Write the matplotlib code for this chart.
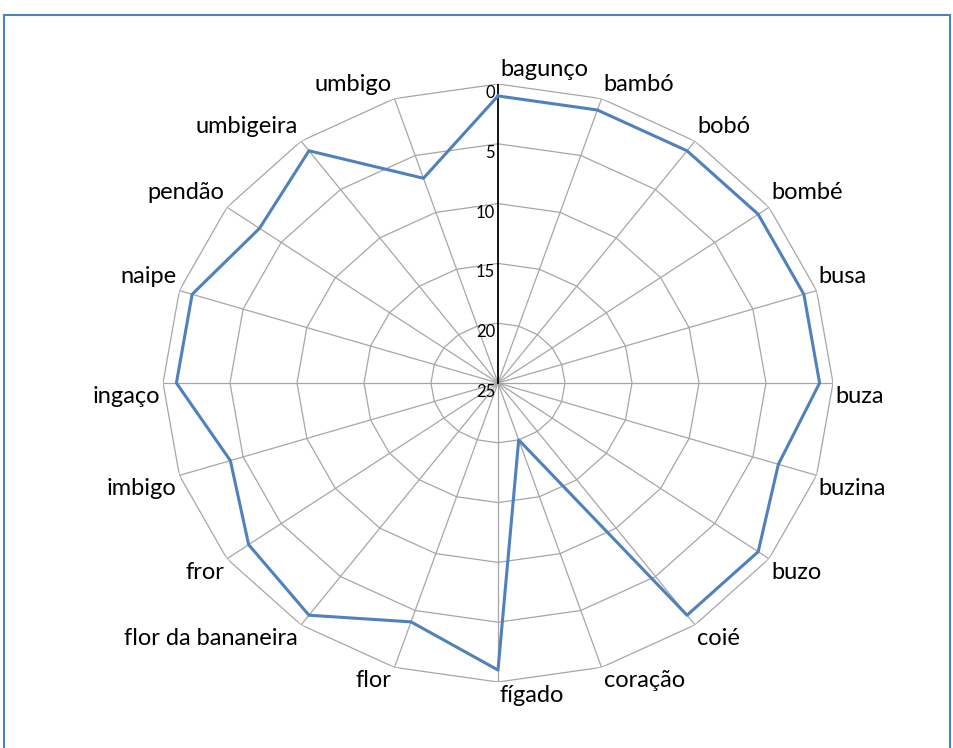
import numpy as np
import matplotlib.pyplot as plt
from matplotlib.patches import Rectangle
from matplotlib.transforms import offset_copy

plt.rcParams['font.family'] = ['Lato', 'DejaVu Sans']

# Dados do gráfico (eixo radial invertido: 0 fora, 25 no centro)
categorias = ['bagunço', 'bambó', 'bobó', 'bombé', 'busa', 'buza', 'buzina',
              'buzo', 'coié', 'coração', 'fígado', 'flor', 'flor da bananeira',
              'fror', 'imbigo', 'ingaço', 'naipe', 'pendão', 'umbigeira', 'umbigo']
valores = [1, 1, 1, 1, 1, 1, 3, 1, 1, 20, 1, 4, 1, 2, 4, 1, 1, 3, 1, 7]
aneis = [0, 5, 10, 15, 20, 25]

cor_grade = '#A6A6A6'
cor_linha = '#4F81BD'

fig = plt.figure(figsize=(9.54, 7.48), dpi=100)
ax = fig.add_axes([163 / 954, 66 / 748, 670 / 954, 598 / 748], projection='polar')
ax.set_aspect('auto')
ax.set_theta_zero_location('N')
ax.set_theta_direction(-1)
ax.set_ylim(25, 0)
ax.set_xticks([])
ax.set_yticks([])
ax.grid(False)
for s in ax.spines.values():
    s.set_visible(False)

angulos = np.deg2rad(np.arange(len(categorias)) * 360 / len(categorias))
fechado = np.append(angulos, angulos[0])

# Grade poligonal
for a in aneis[:-1]:
    ax.plot(fechado, [a] * len(fechado), color=cor_grade, lw=0.9, zorder=1)
for t in angulos[1:]:
    ax.plot([t, t], [aneis[-1], aneis[0]], color=cor_grade, lw=0.9, zorder=1)
ax.plot([0, 0], [aneis[-1], aneis[0]], color='black', lw=1.3, zorder=2)

# Série
ax.plot(fechado, valores + [valores[0]], color=cor_linha, lw=2.2, zorder=3)

# Rótulos das categorias
for t, nome in zip(angulos, categorias):
    s, c = np.sin(t), np.cos(t)
    ha = 'left' if s >= -1e-9 else 'right'
    dx = 2 if ha == 'left' else -3
    if c > 1e-9:
        va, dy = 'bottom', 4
    else:
        va, dy = 'top', -3
    tr = offset_copy(ax.transData, fig=fig, x=dx, y=dy, units='dots')
    ax.text(t, 0, nome, transform=tr, ha=ha, va=va, fontsize=17,
            color='black', clip_on=False)

# Rótulos do eixo radial
for a in aneis:
    tr = offset_copy(ax.transData, fig=fig, x=-3, y=-9, units='dots')
    ax.text(0, a, str(a), transform=tr, ha='right', va='center',
            fontsize=12, color='black', clip_on=False)

# Moldura
moldura = Rectangle((4 / 954, -0.05), (950 - 4) / 954, 1 - 15 / 748 + 0.05,
                    transform=fig.transFigure, fill=False,
                    edgecolor=cor_linha, lw=1.5, clip_on=False)
fig.add_artist(moldura)

fig.savefig('out.png', dpi=100)
